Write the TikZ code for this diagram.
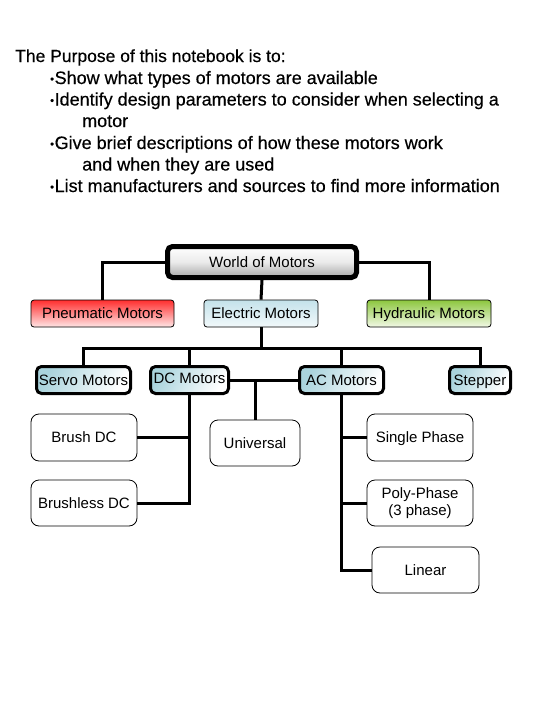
\documentclass[tikz,border=0pt]{standalone}
\usepackage{fontspec}
\setmainfont{Liberation Sans}
\newfontfamily\headfont[FakeBold=0.4]{Liberation Sans}
\definecolor{pneutop}{HTML}{FF2E2E}
\definecolor{pneubot}{HTML}{FFE6E6}
\definecolor{hydtop}{HTML}{8CC63E}
\definecolor{hydbot}{HTML}{F2F9E6}
\definecolor{eltop}{HTML}{C4E2EA}
\definecolor{elbot}{HTML}{F2F9FB}
\definecolor{lvlblue}{HTML}{A9D3DC}
\definecolor{worldbot}{HTML}{A6A6A6}
\newcommand\bul{{\fontsize{11}{11}\selectfont\raisebox{1.3pt}{•}}\hspace{0.6pt}}
\tikzset{
  every node/.style={font=\fontsize{15}{17}\selectfont, inner sep=1pt, align=center},
  onel/.style={text height=11pt, text depth=0.5pt},
  headtxt/.style={anchor=base west, inner sep=0pt, align=left, font=\headfont\fontsize{18}{21.5}\selectfont},
  titletxt/.style={headtxt, font=\headfont\fontsize{17.5}{21.5}\selectfont},
  worldbox/.style={draw, line width=5pt, rounded corners=5pt, top color=white, bottom color=worldbot, middle color=white!92!black, onel},
  lvtwo/.style={draw, line width=0.8pt, rounded corners=3pt, onel},
  lvthree/.style={draw, line width=3pt, rounded corners=5pt, left color=lvlblue, right color=white, shading angle=60, onel},
  lvfour/.style={draw, line width=0.8pt, rounded corners=8pt, fill=white},
  conn/.style={line width=3pt},
}
\begin{document}
\begin{tikzpicture}[x=1pt, y=-1pt]
\useasboundingbox (0,0) rectangle (540,720);
\fill[white] (0,0) rectangle (540,720);
% heading text
\node[titletxt] (h1) at (15,62) {The Purpose of this notebook is to:};
\node[headtxt] (h2) at (50,84) {\bul Show what types of motors are available};
\node[headtxt] (h3) at (50,105.5) {\bul Identify design parameters to consider when selecting a};
\node[headtxt] (h4) at (82,127) {motor};
\node[headtxt] (h5) at (50,149) {\bul Give brief descriptions of how these motors work};
\node[headtxt] (h6) at (82,170.5) {and when they are used};
\node[headtxt] (h7) at (50,192) {\bul List manufacturers and sources to find more information};
% nodes
\node[worldbox, minimum width=189pt, minimum height=31pt] (world) at (262,262) {World of Motors};
\node[lvtwo, top color=pneutop, bottom color=pneubot, minimum width=143pt, minimum height=27pt] (pneu) at (102.5,313.5) {Pneumatic Motors};
\node[lvtwo, top color=eltop, bottom color=elbot, minimum width=114pt, minimum height=27pt] (elec) at (261,313.5) {Electric Motors};
\node[lvtwo, top color=hydtop, bottom color=hydbot, minimum width=124pt, minimum height=27pt] (hyd) at (429,313.5) {Hydraulic Motors};
\node[lvthree, minimum width=94pt, minimum height=27pt] (servo) at (83.5,380) {Servo Motors};
\node[lvthree, minimum width=78pt, minimum height=27pt] (dc) at (189.5,380) {\raisebox{1.5pt}{DC Motors}};
\node[lvthree, minimum width=84pt, minimum height=27pt] (ac) at (341.5,380) {AC Motors};
\node[lvthree, minimum width=61pt, minimum height=27pt] (step) at (480,380) {Stepper};
\node[lvfour, onel, minimum width=106pt, minimum height=47pt] (brush) at (84,437.5) {Brush DC};
\node[lvfour, onel, minimum width=106pt, minimum height=46pt] (brushless) at (84,503) {Brushless DC};
\node[lvfour, onel, minimum width=90pt, minimum height=46pt] (univ) at (255,443) {Universal};
\node[lvfour, onel, minimum width=106pt, minimum height=47pt] (single) at (420,437.5) {Single Phase};
\node[lvfour, minimum width=106pt, minimum height=46pt] (poly) at (420,503) {Poly-Phase\\(3 phase)};
\node[lvfour, onel, minimum width=107pt, minimum height=46pt] (linear) at (425.5,570) {Linear};
\coordinate (bus) at (261,348);
% connectors
\begin{scope}[conn]
\draw (world.west) -| (pneu.north);
\draw (world.east) -| (hyd.north);
\draw (world.south) -- (elec.north);
\draw (elec.south) -- (bus);
\draw (servo.north) |- (bus) -| (step.north);
\draw (dc.north) |- (bus);
\draw (ac.north) |- (bus);
\draw (dc.east) -- (ac.west);
\draw (univ.north) -- (univ.north |- dc.east);
\draw (dc.south) |- (brushless.east);
\draw (brush.east) -| (dc.south);
\draw (ac.south) |- (linear.west);
\draw (single.west) -| (ac.south);
\draw (poly.west) -| (ac.south);
\end{scope}
\end{tikzpicture}
\end{document}
